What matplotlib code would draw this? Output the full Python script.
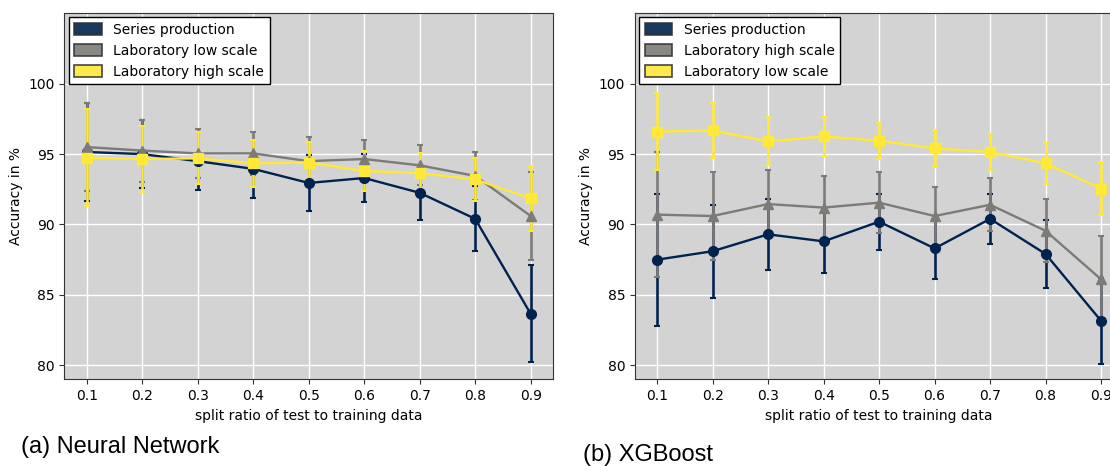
import matplotlib
matplotlib.use("Agg")
import matplotlib.pyplot as plt
from matplotlib.patches import Patch
import numpy as np

split = [0.1, 0.2, 0.3, 0.4, 0.5, 0.6, 0.7, 0.8, 0.9]

# (a) Neural Network
nn_series = [95.15, 95.0, 94.5, 93.95, 92.95, 93.3, 92.25, 90.4, 83.65]
nn_series_err = [3.5, 2.4, 2.05, 2.05, 2.0, 1.72, 1.95, 2.3, 3.45]
nn_low = [95.5, 95.25, 95.05, 95.05, 94.5, 94.65, 94.2, 93.45, 90.6]
nn_low_err = [3.1, 2.2, 1.73, 1.5, 1.7, 1.37, 1.42, 1.7, 3.15]
nn_high = [94.75, 94.65, 94.7, 94.35, 94.4, 93.8, 93.65, 93.2, 91.85]
nn_high_err = [3.45, 2.35, 1.85, 1.67, 1.45, 1.4, 1.4, 1.55, 2.3]

# (b) XGBoost
xgb_series = [87.5, 88.1, 89.3, 88.8, 90.2, 88.3, 90.4, 87.9, 83.15]
xgb_series_err = [4.7, 3.3, 2.5, 2.23, 2.0, 2.18, 1.78, 2.4, 3.08]
xgb_high = [90.7, 90.6, 91.45, 91.2, 91.55, 90.6, 91.4, 89.55, 86.1]
xgb_high_err = [4.45, 3.1, 2.42, 2.25, 2.16, 2.04, 1.87, 2.25, 3.08]
xgb_low = [96.6, 96.68, 95.9, 96.25, 95.95, 95.4, 95.15, 94.35, 92.55]
xgb_low_err = [2.76, 1.95, 1.7, 1.36, 1.28, 1.33, 1.28, 1.45, 1.9]

labels_a = ["Series production", "Laboratory low scale", "Laboratory high scale"]
labels_b = ["Series production", "Laboratory high scale", "Laboratory low scale"]
yticks = [80, 85, 90, 95, 100]
xlabel = "split ratio of test to training data"
ylabel = "Accuracy in %"
captions = ["(a) Neural Network", "(b) XGBoost"]

colors = ["#00224e", "#7c7b78", "#fee838"]
markers = ["o", "^", "s"]

fig = plt.figure(figsize=(11.1, 4.66), dpi=100)
ax1 = fig.add_axes([0.0581, 0.186, 0.44, 0.7854])
ax2 = fig.add_axes([0.572, 0.186, 0.44, 0.7854])

panels = [
    (ax1, [(nn_series, nn_series_err), (nn_low, nn_low_err), (nn_high, nn_high_err)], labels_a),
    (ax2, [(xgb_series, xgb_series_err), (xgb_high, xgb_high_err), (xgb_low, xgb_low_err)], labels_b),
]

for ax, series, labels in panels:
    ax.set_facecolor("#d3d3d3")
    ax.grid(True, color="white", linewidth=1.0)
    ax.set_axisbelow(True)
    for (vals, errs), c, m in zip(series, colors, markers):
        ax.errorbar(split, vals, yerr=errs, color=c, marker=m, markersize=7,
                    linewidth=1.7, elinewidth=1.9, capsize=2.5, capthick=1.5)
    ax.set_ylim(79, 105)
    ax.set_yticks(yticks)
    ax.set_xticks(split)
    ax.set_xticklabels([f"{v:.1f}" for v in split])
    ax.margins(x=0.05)
    ax.tick_params(labelsize=10, color="#333333")
    ax.set_xlabel(xlabel, fontsize=10)
    ax.set_ylabel(ylabel, fontsize=10)
    for s in ax.spines.values():
        s.set_color("#333333")
    handles = [Patch(facecolor=c, edgecolor="#333333", alpha=0.9, linewidth=1.2) for c in colors]
    leg = ax.legend(handles, labels, loc="upper left", fontsize=10, fancybox=False,
                    framealpha=1, edgecolor="black", borderaxespad=0.3,
                    handlelength=2.0, handleheight=0.9)
    leg.get_frame().set_linewidth(1.0)

fig.text(0.0186, 0.0414, captions[0], fontsize=17, family="Liberation Sans", va="center", ha="left")
fig.text(0.525, 0.0236, captions[1], fontsize=17, family="Liberation Sans", va="center", ha="left")

fig.savefig("out.png", dpi=100)
